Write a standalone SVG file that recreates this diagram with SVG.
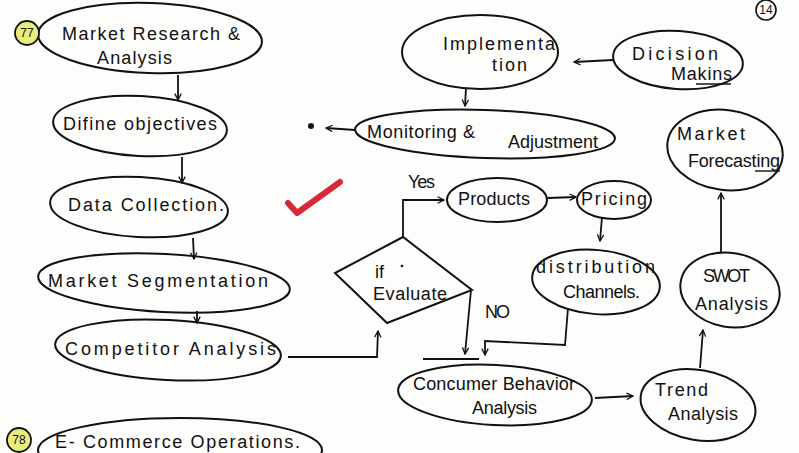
<svg xmlns="http://www.w3.org/2000/svg" width="799" height="453" viewBox="0 0 799 453">
<defs>
<style>
.n{fill:none;stroke:#111;stroke-width:2}
.t{font-family:"Liberation Sans",Arial,sans-serif;font-size:18px;fill:#111}
.c{fill:none;stroke:#111;stroke-width:1.8}
.b{fill:#e8ec7a;stroke:#111;stroke-width:1.8}
.bt{font-family:"Liberation Sans",Arial,sans-serif;font-size:12px;fill:#111;text-anchor:middle}
</style>
<marker id="ah" viewBox="0 0 10 10" refX="9" refY="5" markerWidth="8" markerHeight="8" orient="auto-start-reverse" markerUnits="userSpaceOnUse">
<path d="M1,1 L9,5 L1,9" fill="none" stroke="#111" stroke-width="1.6"/>
</marker>
</defs>
<rect width="799" height="453" fill="#fdfdfc"/>

<g id="connectors">
<line class="c" x1="178" y1="75" x2="178" y2="100" marker-end="url(#ah)"/>
<line class="c" x1="182" y1="157" x2="182" y2="183" marker-end="url(#ah)"/>
<line class="c" x1="193" y1="238" x2="194" y2="259" marker-end="url(#ah)"/>
<line class="c" x1="197" y1="311" x2="197" y2="323" marker-end="url(#ah)"/>
<polyline class="c" points="288,357 377,357 378,331" marker-end="url(#ah)"/>
<polyline class="c" points="403,237 403,200 444,200" marker-end="url(#ah)"/>
<line class="c" x1="548" y1="198" x2="576" y2="197" marker-end="url(#ah)"/>
<line class="c" x1="602" y1="217" x2="600" y2="241" marker-end="url(#ah)"/>
<line class="c" x1="471" y1="290" x2="465" y2="354" marker-end="url(#ah)"/>
<polyline class="c" points="568,308 565,345 485,341 485,355" marker-end="url(#ah)"/>
<line class="c" x1="423" y1="359" x2="479" y2="359"/>
<line class="c" x1="595" y1="398" x2="633" y2="396" marker-end="url(#ah)"/>
<line class="c" x1="700" y1="368" x2="703" y2="330" marker-end="url(#ah)"/>
<line class="c" x1="721" y1="253" x2="721" y2="193" marker-end="url(#ah)"/>
<line class="c" x1="613" y1="60" x2="574" y2="62" marker-end="url(#ah)"/>
<line class="c" x1="466" y1="88" x2="465" y2="106" marker-end="url(#ah)"/>
<line class="c" x1="355" y1="130" x2="326" y2="128" marker-end="url(#ah)"/>
<circle cx="311" cy="126" r="3" fill="#111"/>
</g>

<g id="check">
<path d="M288,203 L297,213 L340,182" fill="none" stroke="#d9283a" stroke-width="6" stroke-linecap="round" stroke-linejoin="round"/>
</g>

<g id="badge14"><circle cx="766" cy="10" r="10" fill="none" stroke="#111" stroke-width="1.6"/><text class="bt" x="766" y="14">14</text></g>

<g id="n-mra">
<ellipse class="n" cx="150" cy="38" rx="112" ry="35" transform="rotate(2 150 38)"/>
<circle class="b" cx="27" cy="33" r="12"/><text class="bt" x="27" y="37">77</text>
<text class="t" x="62" y="40" textLength="178" lengthAdjust="spacing">Market Research &amp;</text>
<text class="t" x="97" y="64" textLength="75" lengthAdjust="spacing">Analysis</text>
</g>

<g id="n-obj">
<ellipse class="n" cx="140" cy="126" rx="87" ry="30" transform="rotate(3 140 126)"/>
<text class="t" x="63" y="130" textLength="154" lengthAdjust="spacing">Difine objectives</text>
</g>

<g id="n-data">
<ellipse class="n" cx="139" cy="207" rx="89" ry="30" transform="rotate(3 139 207)"/>
<text class="t" x="68" y="211" textLength="156" lengthAdjust="spacing">Data Collection.</text>
</g>

<g id="n-seg">
<ellipse class="n" cx="164" cy="283" rx="126" ry="29" transform="rotate(3 164 283)"/>
<text class="t" x="48" y="287" textLength="220" lengthAdjust="spacing">Market Segmentation</text>
</g>

<g id="n-comp">
<ellipse class="n" cx="168" cy="350" rx="113" ry="30" transform="rotate(3 168 350)"/>
<text class="t" x="65" y="355" textLength="211" lengthAdjust="spacing">Competitor Analysis</text>
</g>

<g id="n-ecom">
<ellipse class="n" cx="180" cy="450" rx="142" ry="32"/>
<circle class="b" cx="19" cy="440" r="12"/><text class="bt" x="19" y="444">78</text>
<text class="t" x="55" y="448" textLength="245" lengthAdjust="spacing">E- Commerce Operations.</text>
</g>

<g id="n-impl">
<ellipse class="n" cx="480" cy="52" rx="78" ry="37"/>
<text class="t" x="443" y="50" textLength="112" lengthAdjust="spacing">Implementa</text>
<text class="t" x="492" y="71" textLength="35" lengthAdjust="spacing">tion</text>
</g>

<g id="n-dec">
<ellipse class="n" cx="678" cy="60" rx="65" ry="29" transform="rotate(4 678 60)"/>
<text class="t" x="632" y="60" textLength="86" lengthAdjust="spacing">Dicision</text>
<text class="t" x="671" y="80" textLength="61" lengthAdjust="spacing">Makins</text>
<line x1="696" y1="84" x2="731" y2="84" stroke="#111" stroke-width="1.4"/>
</g>

<g id="n-mon">
<ellipse class="n" cx="485" cy="134" rx="130" ry="24" transform="rotate(2 485 134)"/>
<text class="t" x="367" y="138" textLength="108" lengthAdjust="spacing">Monitoring &amp;</text>
<text class="t" x="508" y="148" textLength="90" lengthAdjust="spacing">Adjustment</text>
</g>

<g id="n-fore">
<ellipse class="n" cx="725" cy="150" rx="58" ry="40" transform="rotate(8 725 150)"/>
<text class="t" x="677" y="140" textLength="68" lengthAdjust="spacing">Market</text>
<text class="t" x="688" y="167" textLength="92" lengthAdjust="spacing">Forecasting</text>
<line x1="755" y1="171" x2="780" y2="171" stroke="#111" stroke-width="1.4"/>
</g>

<g id="n-if">
<polygon class="n" points="403,237 335,273 387,323 472,290"/>
<text class="t" x="375" y="278">if</text>
<circle cx="402" cy="266" r="1.3" fill="#111"/>
<text class="t" x="373" y="300" textLength="74" lengthAdjust="spacing">Evaluate</text>
<text class="t" x="408" y="188" textLength="27" lengthAdjust="spacing">Yes</text>
<text class="t" x="485" y="318" textLength="25" lengthAdjust="spacing">NO</text>
</g>

<g id="n-prod">
<ellipse class="n" cx="497" cy="200" rx="50" ry="22"/>
<text class="t" x="458" y="205" textLength="72" lengthAdjust="spacing">Products</text>
</g>

<g id="n-price">
<ellipse class="n" cx="614" cy="200" rx="37" ry="19"/>
<text class="t" x="581" y="205" textLength="66" lengthAdjust="spacing">Pricing</text>
</g>

<g id="n-dist">
<ellipse class="n" cx="596" cy="282" rx="64" ry="32" transform="rotate(5 596 282)"/>
<text class="t" x="536" y="273" textLength="119" lengthAdjust="spacing">distribution</text>
<text class="t" x="563" y="298" textLength="77" lengthAdjust="spacing">Channels.</text>
</g>

<g id="n-swot">
<ellipse class="n" cx="730" cy="290" rx="50" ry="37" transform="rotate(10 730 290)"/>
<text class="t" x="703" y="282" textLength="47" lengthAdjust="spacing">SWOT</text>
<text class="t" x="695" y="310" textLength="73" lengthAdjust="spacing">Analysis</text>
</g>

<g id="n-cons">
<ellipse class="n" cx="495" cy="395" rx="97" ry="30" transform="rotate(3 495 395)"/>
<text class="t" x="413" y="390" textLength="162" lengthAdjust="spacing">Concumer Behavior</text>
<text class="t" x="472" y="414" textLength="65" lengthAdjust="spacing">Analysis</text>
</g>

<g id="n-trend">
<ellipse class="n" cx="698" cy="405" rx="58" ry="35" transform="rotate(10 698 405)"/>
<text class="t" x="655" y="396" textLength="53" lengthAdjust="spacing">Trend</text>
<text class="t" x="668" y="420" textLength="70" lengthAdjust="spacing">Analysis</text>
</g>
</svg>
